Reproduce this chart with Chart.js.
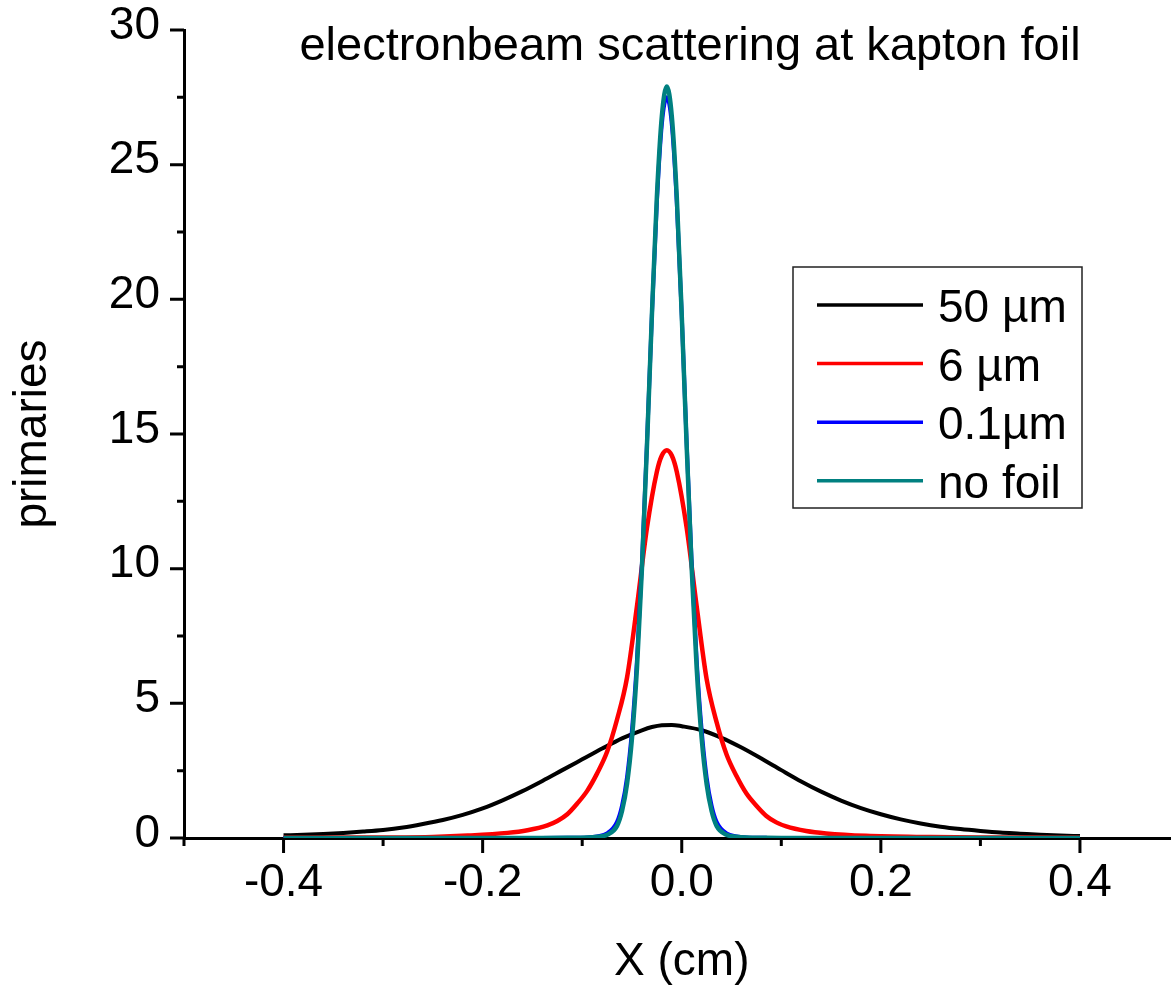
<!DOCTYPE html>
<html>
<head>
<meta charset="utf-8">
<script src="https://cdn.jsdelivr.net/npm/chart.js@4.4.1/dist/chart.umd.min.js"></script>
<style>
  html, body { margin: 0; padding: 0; background: #fff; overflow: hidden; }
  #wrap { width: 1200px; height: 990px; }
  canvas { display: block; }
</style>
</head>
<body>
<div id="wrap"><canvas id="scatterChart" width="1200" height="990"></canvas></div>
<script>
// tick values
const xTicks = [-0.4, -0.2, 0.0, 0.2, 0.4];
const xMinor = [-0.5, -0.3, -0.1, 0.1, 0.3, 0.5];
const yTicks = [0, 5, 10, 15, 20, 25, 30];
const yMinor = [2.5, 7.5, 12.5, 17.5, 22.5, 27.5];

const chartTitle = 'electronbeam scattering at kapton foil';
const seriesNames = ['50 µm', '6 µm', '0.1µm', 'no foil'];

// 50 um foil
const xFoil50 = [-0.40, -0.38, -0.36, -0.34, -0.32, -0.30, -0.28, -0.26, -0.24, -0.22,
  -0.20, -0.18, -0.16, -0.14, -0.12, -0.10, -0.08, -0.06, -0.04, -0.03, -0.02, -0.01,
  0.00, 0.02, 0.04, 0.06, 0.08, 0.10, 0.12, 0.14, 0.16, 0.18,
  0.20, 0.22, 0.24, 0.26, 0.28, 0.30, 0.32, 0.34, 0.36, 0.38, 0.40];
const yFoil50 = [0.10, 0.12, 0.15, 0.19, 0.24, 0.30, 0.39, 0.52, 0.67, 0.86,
  1.10, 1.40, 1.74, 2.12, 2.52, 2.92, 3.32, 3.70, 4.00, 4.12, 4.19, 4.20,
  4.15, 4.00, 3.72, 3.36, 2.95, 2.52, 2.10, 1.72, 1.39, 1.11,
  0.88, 0.69, 0.54, 0.42, 0.33, 0.26, 0.20, 0.16, 0.12, 0.09, 0.07];

// 6 um foil
const xFoil6 = [-0.40, -0.35, -0.30, -0.25, -0.215, -0.175, -0.155, -0.135, -0.125, -0.115,
  -0.105, -0.095, -0.085, -0.075, -0.065, -0.055, -0.045, -0.035, -0.025, -0.02,
  -0.015, -0.01, -0.005, 0.005, 0.015, 0.025, 0.035, 0.045, 0.055, 0.065,
  0.075, 0.085, 0.095, 0.105, 0.125, 0.145, 0.185, 0.25, 0.30, 0.35, 0.40];
const yFoil6 = [0.01, 0.015, 0.02, 0.04, 0.09, 0.19, 0.29, 0.47, 0.63, 0.88,
  1.28, 1.75, 2.40, 3.20, 4.40, 5.95, 8.60, 11.5, 13.6, 14.2,
  14.4, 14.2, 13.6, 11.5, 8.60, 5.90, 4.30, 3.10, 2.30, 1.65,
  1.20, 0.82, 0.58, 0.43, 0.26, 0.17, 0.08, 0.035, 0.02, 0.015, 0.01];

// 0.1 um foil and no foil share the same x grid
const xNarrow = [-0.40, -0.30, -0.20, -0.15, -0.115, -0.095, -0.085, -0.075, -0.065, -0.06,
  -0.055, -0.05, -0.045, -0.04, -0.035, -0.03, -0.025, -0.02, -0.015, -0.01,
  -0.005, 0.00, 0.005, 0.01, 0.015, 0.02, 0.025, 0.03, 0.035, 0.045,
  0.055, 0.065, 0.085, 0.10, 0.20, 0.30, 0.40];
const yFoil01 = [0, 0, 0, 0, 0.005, 0.02, 0.06, 0.17, 0.60, 1.20,
  2.25, 4.00, 6.60, 10.2, 14.6, 19.4, 23.6, 26.5, 27.5, 26.5,
  23.6, 19.4, 14.6, 10.2, 6.60, 4.00, 2.25, 1.20, 0.60, 0.17,
  0.06, 0.02, 0.005, 0, 0, 0, 0];
const yNoFoil = [0, 0, 0, 0, 0.005, 0.02, 0.05, 0.12, 0.45, 1.00,
  2.00, 3.70, 6.30, 10.0, 14.5, 19.4, 23.8, 26.8, 27.9, 26.8,
  23.8, 19.4, 14.5, 10.0, 6.30, 3.70, 2.00, 1.00, 0.45, 0.12,
  0.05, 0.02, 0.005, 0, 0, 0, 0];

const FONT = '"Liberation Sans", Arial, sans-serif';

function pts(xs, ys) {
  return xs.map((x, i) => ({ x: x, y: ys[i] }));
}

// ticks, title and boxed legend inside the plot area
const decorPlugin = {
  id: 'decor',
  afterDraw(chart) {
    const { ctx, chartArea, scales } = chart;
    const x = scales.x, y = scales.y;
    ctx.save();
    ctx.strokeStyle = '#000';
    ctx.lineWidth = 3;
    ctx.beginPath();
    yTicks.forEach(v => {
      const py = y.getPixelForValue(v);
      ctx.moveTo(chartArea.left - 14, py);
      ctx.lineTo(chartArea.left, py);
    });
    yMinor.forEach(v => {
      const py = y.getPixelForValue(v);
      ctx.moveTo(chartArea.left - 7, py);
      ctx.lineTo(chartArea.left, py);
    });
    xTicks.forEach(v => {
      const px = x.getPixelForValue(v);
      ctx.moveTo(px, chartArea.bottom);
      ctx.lineTo(px, chartArea.bottom + 15);
    });
    xMinor.forEach(v => {
      const px = x.getPixelForValue(v);
      ctx.moveTo(px, chartArea.bottom);
      ctx.lineTo(px, chartArea.bottom + 8);
    });
    ctx.stroke();

    // title
    ctx.fillStyle = '#000';
    ctx.font = '47px ' + FONT;
    ctx.textAlign = 'center';
    ctx.textBaseline = 'alphabetic';
    ctx.fillText(chartTitle, 690, 60);

    // legend
    ctx.font = '46px ' + FONT;
    const bx = 793, by = 267, bw = 289, bh = 241;
    ctx.lineWidth = 1.5;
    ctx.strokeStyle = '#222';
    ctx.strokeRect(bx, by, bw, bh);
    ctx.textAlign = 'left';
    chart.data.datasets.forEach((ds, i) => {
      const ry = 305 + i * 58.6;
      ctx.strokeStyle = ds.borderColor;
      ctx.lineWidth = 3.5;
      ctx.beginPath();
      ctx.moveTo(817, ry);
      ctx.lineTo(923, ry);
      ctx.stroke();
      ctx.fillStyle = '#000';
      ctx.fillText(ds.label, 938, ry + 17);
    });
    ctx.restore();
  }
};

const ctxScatter = document.getElementById('scatterChart').getContext('2d');
const scatterChart = new Chart(ctxScatter, {
  type: 'line',
  data: {
    datasets: [{
      label: seriesNames[0],
      data: pts(xFoil50, yFoil50),
      borderColor: '#000000',
      borderWidth: 4,
      order: 4
    }, {
      label: seriesNames[1],
      data: pts(xFoil6, yFoil6),
      borderColor: '#ff0000',
      borderWidth: 4.5,
      order: 3
    }, {
      label: seriesNames[2],
      data: pts(xNarrow, yFoil01),
      borderColor: '#0000ff',
      borderWidth: 4,
      order: 2
    }, {
      label: seriesNames[3],
      data: pts(xNarrow, yNoFoil),
      borderColor: '#008080',
      borderWidth: 4.5,
      order: 1
    }]
  },
  options: {
    responsive: false,
    animation: false,
    events: [],
    elements: {
      point: { radius: 0 },
      line: { cubicInterpolationMode: 'monotone', fill: false }
    },
    layout: { padding: { top: 30, right: 20.5, bottom: 0, left: 0 } },
    plugins: {
      legend: { display: false },
      title: { display: false },
      tooltip: { enabled: false }
    },
    scales: {
      x: {
        type: 'linear',
        min: -0.5,
        max: 0.5,
        afterBuildTicks: (scale) => { scale.ticks = xTicks.map(v => ({ value: v })); },
        afterFit: (scale) => {
          scale.height = 152;
          scale.paddingLeft = 0;
          scale.paddingRight = 0;
        },
        grid: { display: false, drawTicks: false, tickLength: 0 },
        border: { display: true, color: '#000', width: 3 },
        ticks: {
          color: '#000',
          font: { size: 46, family: FONT },
          padding: 18,
          maxRotation: 0,
          callback: (v) => v.toFixed(1)
        },
        title: {
          display: true,
          text: 'X (cm)',
          color: '#000',
          font: { size: 46, family: FONT },
          padding: { top: 0, bottom: 0 }
        }
      },
      y: {
        min: 0,
        max: 30,
        afterBuildTicks: (scale) => { scale.ticks = yTicks.map(v => ({ value: v })); },
        afterFit: (scale) => {
          scale.width = 184;
          scale.paddingTop = 0;
          scale.paddingBottom = 0;
        },
        grid: { display: false, drawTicks: false, tickLength: 0 },
        border: { display: true, color: '#000', width: 3 },
        ticks: {
          color: '#000',
          font: { size: 46, family: FONT },
          padding: 24,
          labelOffset: -4
        },
        title: {
          display: true,
          text: 'primaries',
          color: '#000',
          font: { size: 46, family: FONT },
          padding: { top: 6, bottom: 0 }
        }
      }
    }
  },
  plugins: [decorPlugin]
});
</script>
</body>
</html>
